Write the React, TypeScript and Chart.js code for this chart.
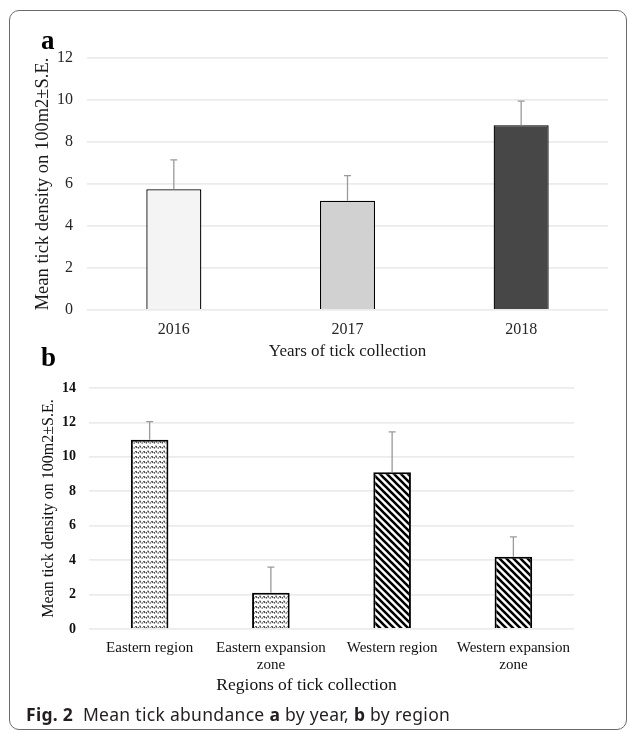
import React, { useEffect, useRef } from "react";
import { Chart, registerables } from "chart.js";

Chart.register(...registerables);

// panel a: by year
const YEARS = ["2016", "2017", "2018"];
const YEAR_MEANS = [5.75, 5.2, 8.8];
const YEAR_SE = [1.4, 1.2, 1.15];
const YEAR_COLORS = ["#f3f4f3", "#d0d1d0", "#474747"];
const YEAR_TICKS = [0, 2, 4, 6, 8, 10, 12];

// panel b: by region
const REGIONS = [
  "Eastern region",
  ["Eastern expansion", "zone"],
  "Western region",
  ["Western expansion", "zone"],
];
const REGION_MEANS = [11.0, 2.1, 9.1, 4.2];
const REGION_SE = [1.05, 1.5, 2.35, 1.15];
const REGION_FILLS = ["wave", "wave", "stripe", "stripe"];
const REGION_TICKS = [0, 2, 4, 6, 8, 10, 12, 14];

const Y_TITLE = "Mean tick density on 100m2\u00b1S.E.";
const SERIF = "'Liberation Serif', 'Times New Roman', serif";

// upper error bar drawn from the bar top, positioned with the y scale
const errorBars = {
  id: "errorBars",
  afterDatasetsDraw(chart: any, _args: any, opts: any) {
    const { ctx } = chart;
    const y = chart.scales.y;
    const meta = chart.getDatasetMeta(0);
    const values = chart.data.datasets[0].data as number[];
    ctx.save();
    ctx.strokeStyle = opts.color || "#999";
    ctx.lineWidth = opts.width || 1.3;
    meta.data.forEach((bar: any, i: number) => {
      const top = y.getPixelForValue(values[i] + opts.errors[i]);
      ctx.beginPath();
      ctx.moveTo(bar.x, bar.y);
      ctx.lineTo(bar.x, top);
      ctx.moveTo(bar.x - 3.5, top);
      ctx.lineTo(bar.x + 3.5, top);
      ctx.stroke();
    });
    ctx.restore();
  },
};

function makePattern(kind: string) {
  const c = document.createElement("canvas");
  const g = c.getContext("2d")!;
  if (kind === "stripe") {
    const s = 7;
    c.width = s;
    c.height = s;
    g.fillStyle = "#fff";
    g.fillRect(0, 0, s, s);
    g.strokeStyle = "#000";
    g.lineWidth = 2.6;
    g.beginPath();
    g.moveTo(-1, -1);
    g.lineTo(s + 1, s + 1);
    g.moveTo(-1, s - 1);
    g.lineTo(1, s + 1);
    g.moveTo(s - 1, -1);
    g.lineTo(s + 1, 1);
    g.stroke();
  } else {
    c.width = 8;
    c.height = 5;
    g.fillStyle = "#fff";
    g.fillRect(0, 0, 8, 5);
    g.strokeStyle = "#1e1e1e";
    g.lineWidth = 1.1;
    g.setLineDash([1.6, 0.9]);
    g.beginPath();
    g.moveTo(0, 1.2);
    g.quadraticCurveTo(2, 4.8, 4, 1.2);
    g.quadraticCurveTo(6, 4.8, 8, 1.2);
    g.stroke();
  }
  return g.createPattern(c, "repeat")!;
}

const App = () => {
  const refA = useRef<HTMLCanvasElement>(null);
  const refB = useRef<HTMLCanvasElement>(null);

  useEffect(() => {
    if (!refA.current || !refB.current) return;

    const chartA = new Chart(refA.current, {
      type: "bar",
      data: {
        labels: YEARS,
        datasets: [
          {
            data: YEAR_MEANS,
            backgroundColor: YEAR_COLORS,
            borderColor: "#000",
            borderWidth: 1.3,
            categoryPercentage: 1,
            barPercentage: 0.317,
          },
        ],
      },
      options: {
        animation: false,
        responsive: false,
        layout: { padding: { left: 32, top: 58, right: 22, bottom: 8 } },
        plugins: {
          legend: { display: false },
          tooltip: { enabled: false },
          errorBars: { errors: YEAR_SE, color: "#9a9a9a", width: 1.3 },
        } as any,
        scales: {
          x: {
            grid: { display: false },
            border: { display: false },
            ticks: { color: "#262626", font: { family: SERIF, size: 16 }, padding: 2 },
            title: {
              display: true,
              text: "Years of tick collection",
              color: "#1a1a1a",
              font: { family: SERIF, size: 17 },
              padding: 0,
            },
            afterFit: (s: any) => {
              s.height = 52;
            },
          },
          y: {
            min: 0,
            max: 12,
            afterBuildTicks: (s: any) => {
              s.ticks = YEAR_TICKS.map((v) => ({ value: v }));
            },
            grid: { color: "#ebebeb", lineWidth: 1.8, drawTicks: false },
            border: { display: false },
            ticks: { color: "#262626", font: { family: SERIF, size: 16 }, padding: 14 },
            title: {
              display: true,
              text: Y_TITLE,
              color: "#1a1a1a",
              font: { family: SERIF, size: 18.5 },
              padding: 0,
            },
            afterFit: (s: any) => {
              s.width = 55;
            },
          },
        },
      },
      plugins: [errorBars],
    });

    const chartB = new Chart(refB.current, {
      type: "bar",
      data: {
        labels: REGIONS as any,
        datasets: [
          {
            data: REGION_MEANS,
            backgroundColor: REGION_FILLS.map(makePattern),
            borderColor: "#000",
            borderWidth: 2,
            categoryPercentage: 1,
            barPercentage: 0.31,
          },
        ],
      },
      options: {
        animation: false,
        responsive: false,
        layout: { padding: { left: 39, top: 28, right: 56, bottom: 9 } },
        plugins: {
          legend: { display: false },
          tooltip: { enabled: false },
          title: {
            display: true,
            position: "bottom",
            text: "Regions of tick collection",
            color: "#111",
            font: { family: SERIF, size: 17.5, weight: "normal" },
            padding: 0,
          },
          errorBars: { errors: REGION_SE, color: "#9a9a9a", width: 1.3 },
        } as any,
        scales: {
          x: {
            grid: { display: false },
            border: { display: false },
            ticks: {
              color: "#111",
              font: { family: SERIF, size: 15, lineHeight: 1.15 },
              padding: 2,
              maxRotation: 0,
            },
            afterFit: (s: any) => {
              s.height = 46;
            },
          },
          y: {
            min: 0,
            max: 14,
            afterBuildTicks: (s: any) => {
              s.ticks = REGION_TICKS.map((v) => ({ value: v }));
            },
            grid: { color: "#ebebeb", lineWidth: 1.8, drawTicks: false },
            border: { display: false },
            ticks: {
              color: "#111",
              font: { family: SERIF, size: 14, weight: "bold" },
              padding: 13,
            },
            title: {
              display: true,
              text: Y_TITLE,
              color: "#111",
              font: { family: SERIF, size: 16 },
              padding: 0,
            },
            afterFit: (s: any) => {
              s.width = 50;
            },
          },
        },
      },
      plugins: [errorBars],
    });

    return () => {
      chartA.destroy();
      chartB.destroy();
    };
  }, []);

  const letter = (top: number): React.CSSProperties => ({
    position: "absolute",
    left: 41,
    top,
    fontFamily: SERIF,
    fontWeight: "bold",
    fontSize: 27,
    lineHeight: 1,
    color: "#000",
  });

  return (
    <div
      style={{
        position: "absolute",
        left: 0,
        top: 0,
        width: 630,
        height: 732,
        background: "#fff",
        overflow: "hidden",
      }}
    >
      <div
        style={{
          position: "absolute",
          left: 9,
          top: 10,
          width: 618,
          height: 720,
          boxSizing: "border-box",
          border: "1.5px solid #6b6b6b",
          borderRadius: 10,
        }}
      />
      <canvas
        ref={refA}
        width={630}
        height={370}
        style={{ position: "absolute", left: 0, top: 0 }}
      />
      <canvas
        ref={refB}
        width={630}
        height={345}
        style={{ position: "absolute", left: 0, top: 360 }}
      />
      <div style={letter(27)}>a</div>
      <div style={letter(344)}>b</div>
      <div
        style={{
          position: "absolute",
          left: 26,
          top: 703,
          fontFamily: "'Noto Sans', sans-serif",
          fontSize: 17.5,
          letterSpacing: 0.3,
          lineHeight: "22px",
          color: "#231f20",
          whiteSpace: "pre",
        }}
      >
        <b>Fig. 2</b>
        {"  Mean tick abundance "}
        <b>a</b>
        {" by year, "}
        <b>b</b>
        {" by region"}
      </div>
    </div>
  );
};

export default App;
